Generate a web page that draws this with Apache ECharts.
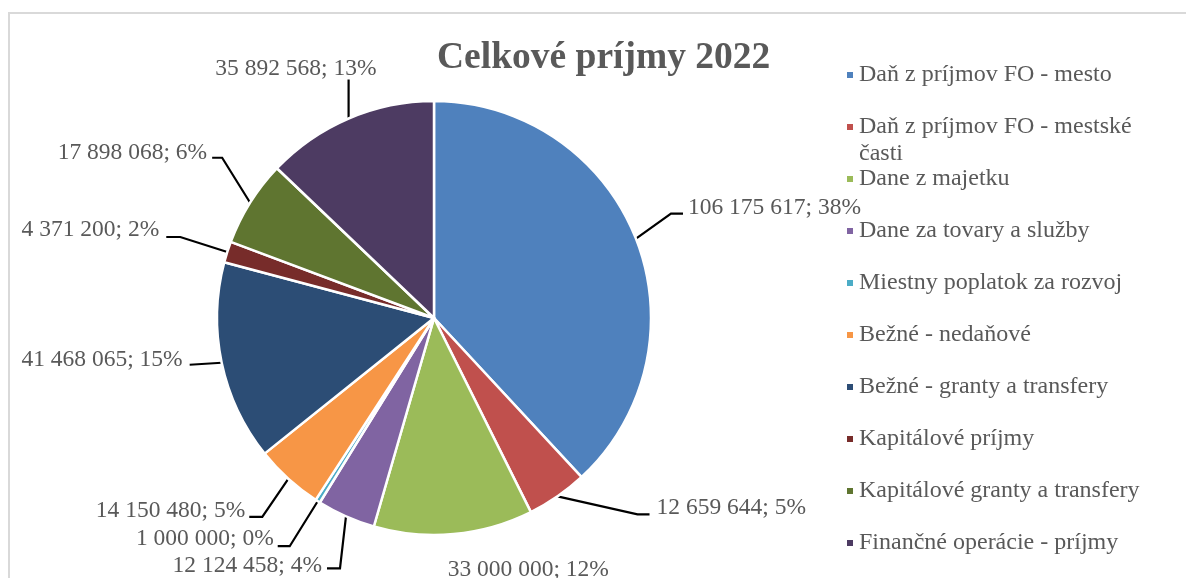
<!DOCTYPE html>
<html>
<head>
<meta charset="utf-8">
<script src="https://cdn.jsdelivr.net/npm/echarts@6/dist/echarts.min.js"></script>
<style>
html,body{margin:0;padding:0;background:#fff;}
#c{width:1186px;height:578px;}
</style>
</head>
<body>
<div id="c"></div>
<script>
const titleText = 'Celkové príjmy 2022';
const categories = [
  'Daň z príjmov FO - mesto',
  'Daň z príjmov FO - mestské časti',
  'Dane z majetku',
  'Dane za tovary a služby',
  'Miestny poplatok za rozvoj',
  'Bežné - nedaňové',
  'Bežné - granty a transfery',
  'Kapitálové príjmy',
  'Kapitálové granty a transfery',
  'Finančné operácie - príjmy'
];
const values = [106175617, 12659644, 33000000, 12124458, 1000000, 14150480, 41468065, 4371200, 17898068, 35892568];
const colors = ['#4F81BD', '#C0504D', '#9BBB59', '#8064A2', '#4BACC6', '#F79646', '#2C4D75', '#772C2A', '#5F7530', '#4D3B62'];
// leader line styling per label: [bendDx, bendDy, runDx, labelDx, labelDy, align]
const leaderShape = [
  [35, -25, 12, 5, -6, 'left'],
  [80, 18, 12, 7, -7, 'left'],
  [0, 0, 0, -6, 36, 'left'],
  [-6, 52, -13, -5, -3, 'right'],
  [-28, 45, -12, -4, -7, 'right'],
  [-26, 38, -13, -4, -6, 'right'],
  [-32, 2, 0, -7, -5, 'right'],
  [-47, -15, -14, -7, -7, 'right'],
  [-28, -45, -10, -5, -5, 'right'],
  [0, -39, 0, 28, -11, 'right']
];

const serif = "'Liberation Serif', 'Times New Roman', serif";
const textGray = '#595959';

function fmtNum(v) {
  return String(v).replace(/\B(?=(\d{3})+(?!\d))/g, ' ');
}

const chart = echarts.init(document.getElementById('c'), null, {renderer: 'canvas'});
chart.setOption({
  animation: false,
  backgroundColor: '#ffffff',
  color: colors,
  title: {
    text: titleText,
    left: 437,
    top: 40,
    padding: 0,
    textStyle: {fontFamily: serif, fontWeight: 'bold', fontSize: 37.5, color: textGray, lineHeight: 37}
  },
  legend: {
    orient: 'vertical',
    left: 845,
    top: 63,
    padding: 0,
    itemWidth: 8,
    itemHeight: 8,
    itemGap: 28,
    icon: 'rect',
    selectedMode: false,
    data: categories,
    formatter: function (name) { return name.replace(' časti', ''); },
    textStyle: {fontFamily: serif, fontSize: 24, color: textGray, lineHeight: 24}
  },
  graphic: [
    {
      type: 'rect', z: -1, silent: true,
      shape: {x: 9, y: 13, width: 1300, height: 700},
      style: {fill: 'none', stroke: '#d9d9d9', lineWidth: 2}
    },
    {
      type: 'text', silent: true, left: 859, top: 142,
      style: {text: 'časti', font: '24px ' + serif, fill: textGray}
    }
  ],
  series: [{
    type: 'pie',
    center: [434, 318],
    radius: 217,
    startAngle: 90,
    clockwise: true,
    avoidLabelOverlap: false,
    data: categories.map((n, i) => ({name: n, value: values[i]})),
    itemStyle: {borderColor: '#ffffff', borderWidth: 2.5},
    emphasis: {disabled: true},
    label: {
      show: true,
      position: 'outside',
      fontFamily: serif,
      fontSize: 23.5,
      color: textGray,
      formatter: function (p) { return fmtNum(p.value) + '; ' + Math.round(p.percent) + '%'; }
    },
    labelLine: {show: true, length: 20, length2: 10, smooth: false, lineStyle: {color: '#000000', width: 2.2}},
    labelLayout: function (params) {
      const s = leaderShape[params.dataIndex];
      const pts = params.labelLinePoints;
      if (!pts || !s) return {};
      const a = pts[0];
      const bend = [a[0] + s[0], a[1] + s[1]];
      const end = [bend[0] + s[2], bend[1]];
      return {
        x: end[0] + s[3],
        y: end[1] + s[4],
        align: s[5],
        verticalAlign: 'middle',
        labelLinePoints: [[a[0], a[1]], bend, end]
      };
    }
  }]
});
</script>
</body>
</html>
